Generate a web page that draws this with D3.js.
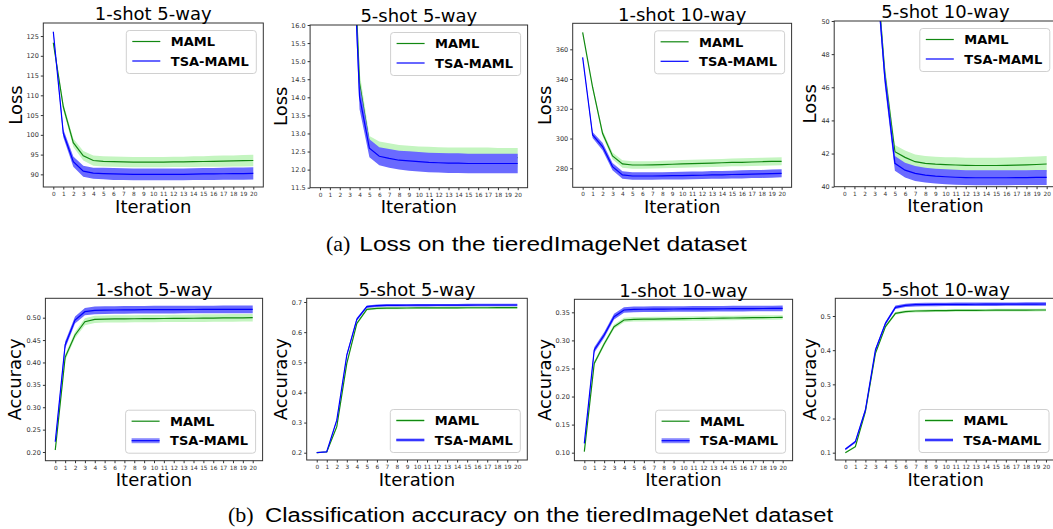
<!DOCTYPE html>
<html>
<head>
<meta charset="utf-8">
<script src="https://cdn.jsdelivr.net/npm/d3@7"></script>
<style>
	body { margin: 0; background: #fff; }
	svg { display: block; }
	text { font-family: "DejaVu Sans", sans-serif; }
</style>
</head>
<body>
<div id="viz"></div>
<script>

/********
 * DATA *
 ********/

var ITERATIONS = [0, 1, 2, 3, 4, 5, 6, 7, 8, 9, 10, 11, 12, 13, 14, 15, 16, 17, 18, 19, 20];
var TITLES = ["1-shot 5-way", "5-shot 5-way", "1-shot 10-way", "5-shot 10-way"];
var SERIES_NAMES = ["MAML", "TSA-MAML"];

// Loss, 1-shot 5-way
var LOSS_MAML_1S5W = [123.3, 107.1, 98.0, 94.7, 93.5, 93.3, 93.2, 93.15, 93.1, 93.1, 93.1, 93.1, 93.15, 93.15, 93.2, 93.25, 93.3, 93.35, 93.4, 93.45, 93.5];
var LOSS_MAML_1S5W_STD = [0.4, 0.9, 1.1, 1.2, 1.3, 1.3, 1.3, 1.3, 1.3, 1.3, 1.3, 1.3, 1.3, 1.3, 1.35, 1.35, 1.4, 1.4, 1.4, 1.45, 1.45];
var LOSS_TSA_1S5W = [126.1, 100.4, 93.2, 90.8, 90.3, 90.2, 90.1, 90.05, 90.0, 90.0, 90.0, 90.0, 90.0, 90.0, 90.05, 90.1, 90.1, 90.15, 90.2, 90.2, 90.25];
var LOSS_TSA_1S5W_STD = [0.4, 1.0, 1.3, 1.4, 1.4, 1.45, 1.5, 1.5, 1.5, 1.5, 1.5, 1.5, 1.5, 1.5, 1.5, 1.5, 1.5, 1.5, 1.55, 1.55, 1.55];

// Loss, 5-shot 5-way
var LOSS_MAML_5S5W = [46.0, 35.5, 26.0, 21.0, 14.4, 12.73, 12.54, 12.47, 12.42, 12.40, 12.38, 12.37, 12.36, 12.35, 12.35, 12.34, 12.34, 12.34, 12.33, 12.33, 12.33];
var LOSS_MAML_5S5W_STD = [0.5, 0.4, 0.4, 0.4, 0.3, 0.2, 0.24, 0.26, 0.26, 0.26, 0.26, 0.26, 0.26, 0.26, 0.26, 0.27, 0.27, 0.27, 0.27, 0.27, 0.27];
var LOSS_TSA_5S5W = [45.5, 35.0, 25.5, 20.6, 14.02, 12.59, 12.37, 12.31, 12.26, 12.24, 12.22, 12.2, 12.19, 12.18, 12.18, 12.17, 12.17, 12.17, 12.17, 12.17, 12.17];
var LOSS_TSA_5S5W_STD = [0.5, 0.4, 0.4, 0.4, 0.35, 0.25, 0.25, 0.26, 0.26, 0.27, 0.27, 0.27, 0.27, 0.27, 0.27, 0.27, 0.27, 0.27, 0.27, 0.27, 0.27];

// Loss, 1-shot 10-way
var LOSS_MAML_1S10W = [371.4, 334.5, 303.5, 288.3, 282.9, 282.2, 282.2, 282.3, 282.5, 282.7, 282.9, 283.1, 283.3, 283.5, 283.7, 283.9, 284.0, 284.2, 284.4, 284.6, 284.7];
var LOSS_MAML_1S10W_STD = [0.5, 1.5, 2.0, 2.3, 2.5, 2.5, 2.5, 2.5, 2.5, 2.5, 2.6, 2.6, 2.6, 2.6, 2.6, 2.6, 2.7, 2.7, 2.7, 2.7, 2.7];
var LOSS_TSA_1S10W = [354.6, 302.4, 294.6, 281.1, 275.5, 274.8, 274.8, 274.8, 274.9, 275.0, 275.1, 275.2, 275.3, 275.5, 275.6, 275.8, 275.9, 276.1, 276.2, 276.4, 276.6];
var LOSS_TSA_1S10W_STD = [0.5, 2.0, 2.5, 2.5, 2.5, 2.5, 2.5, 2.5, 2.5, 2.5, 2.6, 2.6, 2.6, 2.6, 2.6, 2.6, 2.7, 2.7, 2.7, 2.7, 2.7];

// Loss, 5-shot 10-way
var LOSS_MAML_5S10W = [78.0, 66.0, 58.5, 54.6, 46.9, 42.11, 41.77, 41.51, 41.41, 41.36, 41.33, 41.31, 41.29, 41.28, 41.28, 41.28, 41.29, 41.3, 41.32, 41.34, 41.37];
var LOSS_MAML_5S10W_STD = [0.6, 0.5, 0.5, 0.5, 0.5, 0.4, 0.42, 0.44, 0.45, 0.45, 0.45, 0.46, 0.46, 0.46, 0.46, 0.47, 0.47, 0.47, 0.48, 0.48, 0.48];
var LOSS_TSA_5S10W = [77.5, 65.5, 58.0, 54.3, 46.6, 41.41, 41.0, 40.8, 40.7, 40.64, 40.6, 40.57, 40.55, 40.54, 40.54, 40.54, 40.54, 40.55, 40.55, 40.56, 40.56];
var LOSS_TSA_5S10W_STD = [0.6, 0.5, 0.5, 0.5, 0.5, 0.45, 0.45, 0.45, 0.45, 0.45, 0.45, 0.45, 0.45, 0.45, 0.45, 0.45, 0.45, 0.45, 0.45, 0.45, 0.45];

// Accuracy, 1-shot 5-way
var ACC_MAML_1S5W = [0.2045, 0.4114, 0.4613, 0.491, 0.4963, 0.497, 0.4972, 0.4974, 0.4976, 0.4978, 0.498, 0.4982, 0.4984, 0.4986, 0.4988, 0.499, 0.4992, 0.4994, 0.4996, 0.4998, 0.500];
var ACC_MAML_1S5W_STD = [0.004, 0.007, 0.007, 0.008, 0.008, 0.008, 0.008, 0.008, 0.008, 0.008, 0.008, 0.008, 0.008, 0.008, 0.0085, 0.0085, 0.0085, 0.0085, 0.0085, 0.0085, 0.0085];
var ACC_TSA_1S5W = [0.223, 0.439, 0.4948, 0.5134, 0.5164, 0.517, 0.5172, 0.5174, 0.5176, 0.5178, 0.518, 0.518, 0.5181, 0.5182, 0.5183, 0.5184, 0.5184, 0.5185, 0.5185, 0.5186, 0.5186];
var ACC_TSA_1S5W_STD = [0.004, 0.008, 0.008, 0.008, 0.0085, 0.0085, 0.0085, 0.0085, 0.0085, 0.0085, 0.0085, 0.0085, 0.0085, 0.0085, 0.0085, 0.0085, 0.0085, 0.0085, 0.0085, 0.0085, 0.0085];

// Accuracy, 5-shot 5-way
var ACC_MAML_5S5W = [0.200, 0.2022, 0.2863, 0.4965, 0.629, 0.6757, 0.679, 0.680, 0.680, 0.6802, 0.6804, 0.6805, 0.6806, 0.6807, 0.6808, 0.6809, 0.681, 0.681, 0.6811, 0.6812, 0.6812];
var ACC_MAML_5S5W_STD = [0.001, 0.002, 0.004, 0.005, 0.005, 0.004, 0.004, 0.004, 0.004, 0.004, 0.004, 0.004, 0.004, 0.004, 0.004, 0.004, 0.004, 0.004, 0.004, 0.004, 0.004];
var ACC_TSA_5S5W = [0.200, 0.203, 0.308, 0.524, 0.6425, 0.6845, 0.6878, 0.689, 0.689, 0.6892, 0.6894, 0.6895, 0.6896, 0.6897, 0.6898, 0.6899, 0.690, 0.690, 0.690, 0.690, 0.690];
var ACC_TSA_5S5W_STD = [0.001, 0.002, 0.004, 0.005, 0.005, 0.004, 0.004, 0.004, 0.004, 0.004, 0.004, 0.004, 0.004, 0.004, 0.004, 0.004, 0.004, 0.004, 0.004, 0.004, 0.004];

// Accuracy, 1-shot 10-way
var ACC_MAML_1S10W = [0.1018, 0.2591, 0.2936, 0.3245, 0.3363, 0.3375, 0.3378, 0.338, 0.3382, 0.3385, 0.3387, 0.339, 0.3392, 0.3394, 0.3397, 0.3399, 0.3402, 0.3404, 0.3406, 0.3408, 0.341];
var ACC_MAML_1S10W_STD = [0.002, 0.004, 0.004, 0.004, 0.004, 0.004, 0.004, 0.004, 0.004, 0.004, 0.004, 0.004, 0.004, 0.004, 0.004, 0.004, 0.004, 0.004, 0.004, 0.004, 0.004];
var ACC_TSA_1S10W = [0.1166, 0.2829, 0.3096, 0.3423, 0.3542, 0.3553, 0.3555, 0.3557, 0.3558, 0.3559, 0.356, 0.3561, 0.3562, 0.3563, 0.3564, 0.3565, 0.3566, 0.3567, 0.3568, 0.3569, 0.3571];
var ACC_TSA_1S10W_STD = [0.002, 0.005, 0.005, 0.005, 0.005, 0.005, 0.005, 0.005, 0.005, 0.005, 0.005, 0.005, 0.005, 0.005, 0.005, 0.005, 0.005, 0.005, 0.005, 0.005, 0.005];

// Accuracy, 5-shot 10-way
var ACC_MAML_5S10W = [0.100, 0.1176, 0.22, 0.3907, 0.4688, 0.5078, 0.5127, 0.5146, 0.5152, 0.5156, 0.516, 0.5162, 0.5164, 0.5166, 0.5168, 0.517, 0.5171, 0.5172, 0.5173, 0.5175, 0.5176];
var ACC_MAML_5S10W_STD = [0.002, 0.003, 0.004, 0.004, 0.004, 0.004, 0.004, 0.004, 0.004, 0.004, 0.004, 0.004, 0.004, 0.004, 0.004, 0.004, 0.004, 0.004, 0.004, 0.004, 0.004];
var ACC_TSA_5S10W = [0.1098, 0.132, 0.2249, 0.4005, 0.4785, 0.5254, 0.5312, 0.533, 0.5335, 0.5338, 0.534, 0.5342, 0.5343, 0.5344, 0.5345, 0.5346, 0.5347, 0.5348, 0.5349, 0.535, 0.5351];
var ACC_TSA_5S10W_STD = [0.003, 0.004, 0.005, 0.005, 0.005, 0.005, 0.005, 0.005, 0.005, 0.005, 0.005, 0.005, 0.005, 0.005, 0.005, 0.005, 0.005, 0.005, 0.005, 0.005, 0.005];

// Axis limits and ticks, one per panel
var Y_DOMAINS = [[86.8, 128.3], [11.5, 16], [267.2, 377.5], [40, 50],
	[0.1806, 0.5433], [0.1758, 0.7123], [0.0857, 0.3732], [0.0786, 0.5518]];
var Y_TICKS = [[90, 95, 100, 105, 110, 115, 120, 125],
	[11.5, 12.0, 12.5, 13.0, 13.5, 14.0, 14.5, 15.0, 15.5, 16.0],
	[280, 300, 320, 340, 360],
	[40, 42, 44, 46, 48, 50],
	[0.20, 0.25, 0.30, 0.35, 0.40, 0.45, 0.50],
	[0.2, 0.3, 0.4, 0.5, 0.6, 0.7],
	[0.10, 0.15, 0.20, 0.25, 0.30, 0.35],
	[0.1, 0.2, 0.3, 0.4, 0.5]];
var Y_FORMATS = ["d", ".1f", "d", "d", ".2f", ".1f", ".2f", ".1f"];

var CAPTIONS = [["(a)", "Loss on the tieredImageNet dataset"],
	["(b)", "Classification accuracy on the tieredImageNet dataset"]];


/**********
 * LAYOUT *
 **********/

var SVG_WIDTH = 1053, SVG_HEIGHT = 529;
// [left, top, right, bottom] of each axes frame
var BOXES = [[43.3, 23, 263.3, 187], [310.1, 25, 527.6, 187.7], [572.7, 23.3, 791.6, 187.3], [834.2, 21, 1056.8, 186.7],
	[45.4, 298.3, 262.6, 460.7], [306.7, 298.3, 527.3, 460], [574.4, 299.3, 792.6, 460.7], [835.3, 298.3, 1056, 460]];
var YLABEL_X = [21.5, 287, 551, 816, 21.3, 286.7, 551, 815.7];
var TSA_HANDLE_GLOW = [0, 0, 0, 0, 5, 3, 5, 3];
var MAML_HANDLE_GLOW = [0, 0, 0, 0, 0, 2.5, 0, 2.5];

var MAML_LINE = "#118811", MAML_FILL = "#c4f5c0";
var TSA_LINE = "#0000ff", TSA_FILL = "#6a6aff";

var PANELS = [
	[LOSS_MAML_1S5W, LOSS_MAML_1S5W_STD, LOSS_TSA_1S5W, LOSS_TSA_1S5W_STD],
	[LOSS_MAML_5S5W, LOSS_MAML_5S5W_STD, LOSS_TSA_5S5W, LOSS_TSA_5S5W_STD],
	[LOSS_MAML_1S10W, LOSS_MAML_1S10W_STD, LOSS_TSA_1S10W, LOSS_TSA_1S10W_STD],
	[LOSS_MAML_5S10W, LOSS_MAML_5S10W_STD, LOSS_TSA_5S10W, LOSS_TSA_5S10W_STD],
	[ACC_MAML_1S5W, ACC_MAML_1S5W_STD, ACC_TSA_1S5W, ACC_TSA_1S5W_STD],
	[ACC_MAML_5S5W, ACC_MAML_5S5W_STD, ACC_TSA_5S5W, ACC_TSA_5S5W_STD],
	[ACC_MAML_1S10W, ACC_MAML_1S10W_STD, ACC_TSA_1S10W, ACC_TSA_1S10W_STD],
	[ACC_MAML_5S10W, ACC_MAML_5S10W_STD, ACC_TSA_5S10W, ACC_TSA_5S10W_STD]
];


/*****************
 * INITIAL SETUP *
 *****************/

var svg = d3.select("#viz")
	.append("svg")
	.attr("width", SVG_WIDTH)
	.attr("height", SVG_HEIGHT);

PANELS.forEach(function(p, i){
	var b = BOXES[i];
	var bottomRow = i >= 4;
	var x = d3.scaleLinear().domain([-1, 21]).range([b[0], b[2]]);
	var y = d3.scaleLinear().domain(Y_DOMAINS[i]).range([b[3], b[1]]);
	var g = svg.append("g");

	// Clipping to the frame
	g.append("clipPath").attr("id", "clip" + i)
		.append("rect")
		.attr("x", b[0]).attr("y", b[1])
		.attr("width", b[2] - b[0]).attr("height", b[3] - b[1]);
	var plot = g.append("g").attr("clip-path", "url(#clip" + i + ")");

	// Bands and lines
	function drawSeries(mean, std, fill, stroke){
		var area = d3.area()
			.x(function(d, j){ return x(ITERATIONS[j]); })
			.y0(function(d, j){ return y(d - std[j]); })
			.y1(function(d, j){ return y(d + std[j]); });
		var line = d3.line()
			.x(function(d, j){ return x(ITERATIONS[j]); })
			.y(function(d){ return y(d); });
		plot.append("path").attr("d", area(mean)).attr("fill", fill);
		plot.append("path").attr("d", line(mean))
			.attr("fill", "none").attr("stroke", stroke).attr("stroke-width", 1.2);
	}
	drawSeries(p[0], p[1], MAML_FILL, MAML_LINE);
	drawSeries(p[2], p[3], TSA_FILL, TSA_LINE);

	// Axes
	var xAxis = g.append("g")
		.attr("transform", "translate(0," + b[3] + ")")
		.call(d3.axisBottom(x).tickValues(ITERATIONS).tickSize(2.5).tickPadding(2.5));
	var yAxis = g.append("g")
		.attr("transform", "translate(" + b[0] + ",0)")
		.call(d3.axisLeft(y).tickValues(Y_TICKS[i]).tickFormat(d3.format(Y_FORMATS[i])).tickSize(2.5).tickPadding(2));
	[xAxis, yAxis].forEach(function(a, k){
		a.select(".domain").remove();
		a.selectAll(".tick line").attr("stroke", "#333");
		a.selectAll(".tick text")
			.attr("fill", "#333")
			.style("font-size", k ? "6.5px" : "5.8px")
			.style("font-family", "DejaVu Sans");
	});

	// Frame
	g.append("rect")
		.attr("x", b[0]).attr("y", b[1])
		.attr("width", b[2] - b[0]).attr("height", b[3] - b[1])
		.attr("fill", "none").attr("stroke", "#333").attr("stroke-width", 1);

	// Title and labels
	g.append("text")
		.attr("x", (b[0] + b[2]) / 2).attr("y", b[1] - 2.7)
		.attr("text-anchor", "middle")
		.style("font-size", "18px")
		.text(TITLES[i % 4]);
	g.append("text")
		.attr("x", (b[0] + b[2]) / 2).attr("y", b[3] + 25.5)
		.attr("text-anchor", "middle")
		.style("font-size", "18px")
		.text("Iteration");
	g.append("text")
		.attr("transform", "translate(" + YLABEL_X[i] + "," + ((b[1] + b[3]) / 2) + ") rotate(-90)")
		.attr("text-anchor", "middle")
		.style("font-size", "18px")
		.text(bottomRow ? "Accuracy" : "Loss");

	// Legend
	var lw = 130, lh = 43;
	var lx = b[2] - 7 - lw;
	var ly = bottomRow ? b[3] - 7.5 - lh : b[1] + 7.5;
	var lg = g.append("g").attr("transform", "translate(" + lx + "," + ly + ")");
	lg.append("rect")
		.attr("width", lw).attr("height", lh).attr("rx", 3)
		.attr("fill", "#fff").attr("fill-opacity", 0.8)
		.attr("stroke", "#d0d0d0").attr("stroke-width", 1);
	var glows = [MAML_HANDLE_GLOW[i], TSA_HANDLE_GLOW[i]];
	[MAML_LINE, TSA_LINE].forEach(function(c, k){
		var ry = 11 + k * 19.5;
		if (glows[k] > 0) {
			lg.append("line")
				.attr("x1", 6).attr("x2", 34).attr("y1", ry).attr("y2", ry)
				.attr("stroke", k ? TSA_FILL : MAML_FILL).attr("stroke-opacity", 0.8)
				.attr("stroke-width", glows[k]);
		}
		lg.append("line")
			.attr("x1", 6).attr("x2", 34).attr("y1", ry).attr("y2", ry)
			.attr("stroke", c).attr("stroke-width", 1.2);
		lg.append("text")
			.attr("x", 44.5).attr("y", ry + 4.8)
			.style("font-size", "13px").style("font-weight", "bold")
			.text(SERIES_NAMES[k]);
	});
});

// Captions
var CAPTION_POS = [[326, 251, 359.3, 387.4], [228, 522, 265, 568]];
CAPTIONS.forEach(function(c, k){
	var pos = CAPTION_POS[k];
	svg.append("text")
		.attr("x", pos[0]).attr("y", pos[1])
		.style("font-family", "Liberation Serif").style("font-size", "22px")
		.text(c[0]);
	svg.append("text")
		.attr("x", pos[2]).attr("y", pos[1])
		.attr("textLength", pos[3]).attr("lengthAdjust", "spacingAndGlyphs")
		.style("font-family", "Liberation Sans").style("font-size", "20px")
		.text(c[1]);
});

</script>
</body>
</html>
